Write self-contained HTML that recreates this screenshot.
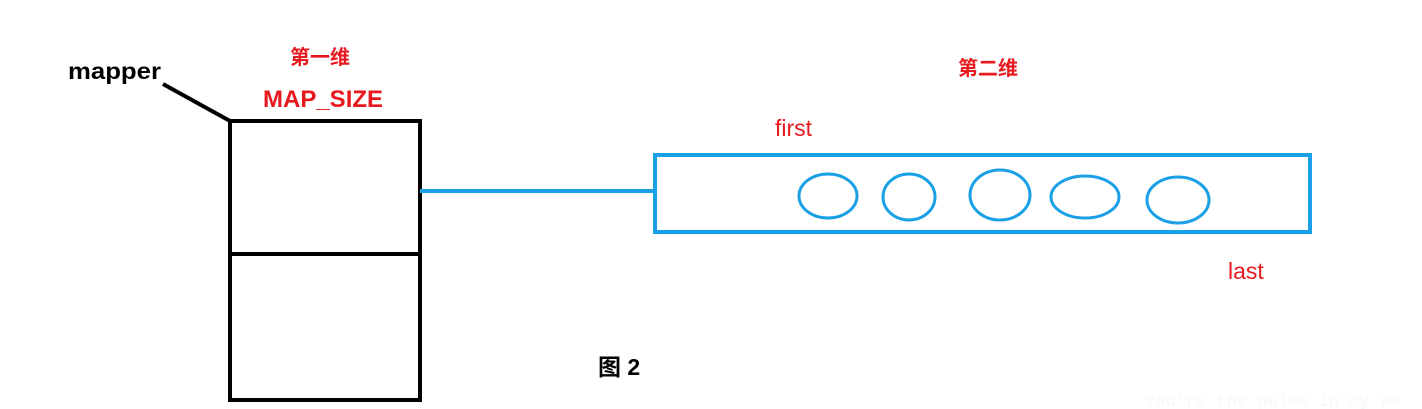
<!DOCTYPE html>
<html><head><meta charset="utf-8"><style>
html,body{margin:0;padding:0;background:#fff;width:1422px;height:409px;overflow:hidden}
svg text{font-family:"Liberation Sans","Noto Sans CJK SC",sans-serif}
</style></head><body>
<svg width="1422" height="409" viewBox="0 0 1422 409">
<line x1="163" y1="84" x2="230" y2="121" stroke="#000" stroke-width="4"/>
<rect x="230" y="121" width="190" height="279" fill="none" stroke="#000" stroke-width="4"/>
<line x1="230" y1="254" x2="420" y2="254" stroke="#000" stroke-width="4"/>
<line x1="420" y1="191" x2="655" y2="191" stroke="#1aa0e6" stroke-width="4"/>
<rect x="655" y="155" width="655" height="77" fill="none" stroke="#1aa0e6" stroke-width="4"/>
<ellipse cx="828" cy="196" rx="29" ry="22" fill="none" stroke="#1aa0e6" stroke-width="3"/>
<ellipse cx="909" cy="197" rx="26" ry="23" fill="none" stroke="#1aa0e6" stroke-width="3"/>
<ellipse cx="1000" cy="195" rx="30" ry="25" fill="none" stroke="#1aa0e6" stroke-width="3"/>
<ellipse cx="1085" cy="197" rx="34" ry="21" fill="none" stroke="#1aa0e6" stroke-width="3"/>
<ellipse cx="1178" cy="200" rx="31" ry="23" fill="none" stroke="#1aa0e6" stroke-width="3"/>
<text x="68" y="79" font-size="23" font-weight="bold" fill="#000" textLength="93" lengthAdjust="spacingAndGlyphs">mapper</text>
<text x="320" y="64" font-size="20" font-weight="bold" fill="#e8191e" text-anchor="middle">第一维</text>
<text x="263" y="107" font-size="24" font-weight="bold" fill="#e8191e">MAP_SIZE</text>
<text x="988" y="75" font-size="20" font-weight="bold" fill="#e8191e" text-anchor="middle">第二维</text>
<text x="775" y="136" font-size="23" fill="#e8191e">first</text>
<text x="1228" y="279" font-size="23" fill="#e8191e">last</text>
<text x="598" y="375" font-size="23" font-weight="bold" fill="#000">图 2</text>
<text x="1145" y="406" font-size="17" font-weight="bold" fill="#f5fbf5" style="font-family:'Liberation Mono',monospace">You're the pulse in my ve</text>
</svg>
</body></html>
